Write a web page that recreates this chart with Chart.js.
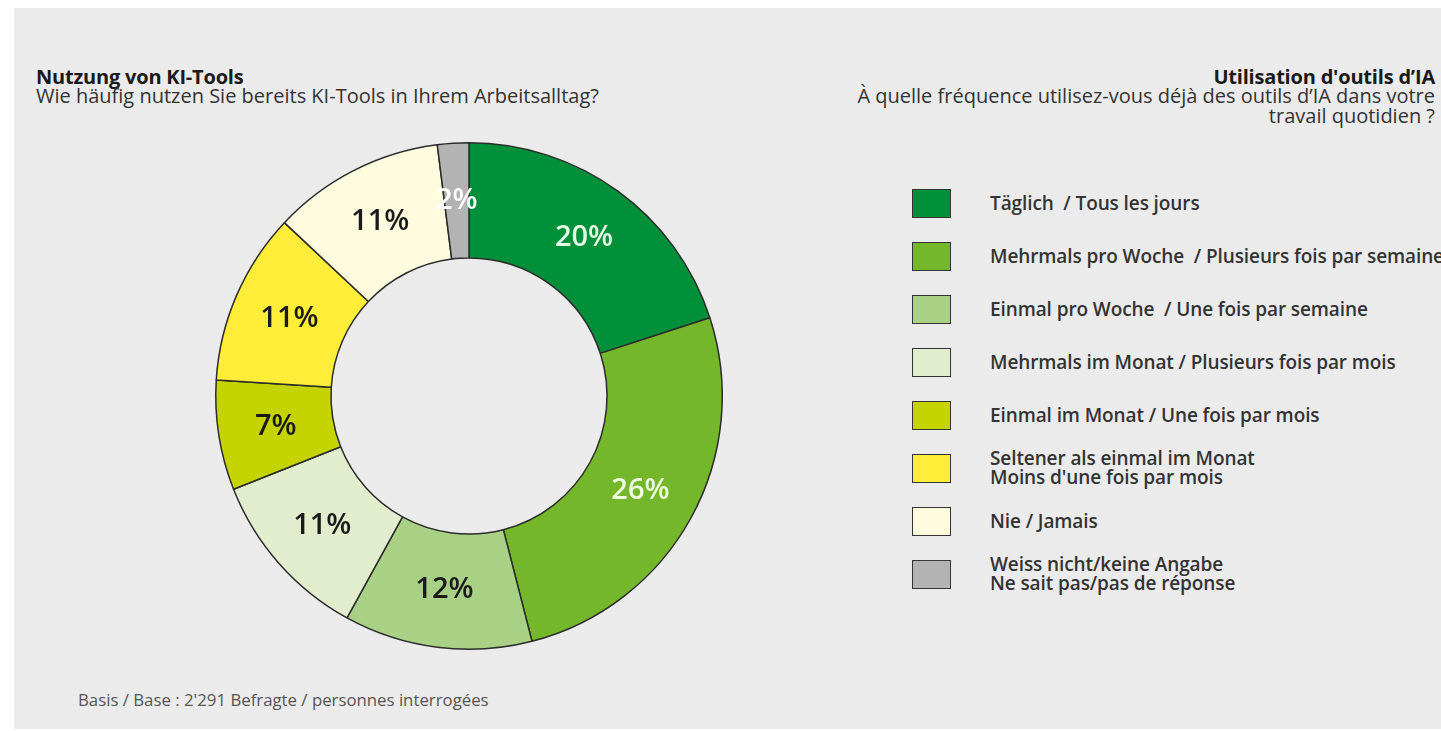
<!DOCTYPE html>
<html>
<head>
<meta charset="utf-8">
<script src="https://cdn.jsdelivr.net/npm/chart.js@4.4.1/dist/chart.umd.min.js"></script>
<style>
  html, body { margin: 0; padding: 0; background: #fff; }
  body { width: 1441px; height: 731px; position: relative; overflow: hidden; font-family: "Open Sans", sans-serif; }
  #panel { position: absolute; left: 14px; top: 8px; right: 0; bottom: 2px; background: #ebebeb; }
  .t { position: absolute; color: #222; white-space: nowrap; line-height: 20px; }
  #titleL { left: 36px; top: 67px; font-size: 20px; font-weight: 700; color: #1a1a1a; letter-spacing: -0.2px; }
  #subL { left: 36px; top: 86px; font-size: 20px; color: #333; }
  #titleR { right: 6px; top: 67px; font-size: 20px; font-weight: 700; color: #1a1a1a; text-align: right; letter-spacing: -0.2px; }
  #subR { right: 6px; top: 86px; font-size: 20px; color: #333; text-align: right; }
  #footer { left: 78px; top: 690px; font-size: 16.8px; color: #555; }
  #chartBox { position: absolute; left: 211px; top: 138px; width: 516px; height: 516px; }
  .lg { position: absolute; left: 912px; display: flex; align-items: center; }
  .lg .box { width: 37px; height: 27px; border: 1.5px solid #333; flex: none; }
  .lg .txt { margin-left: 39px; font-size: 19px; font-weight: 600; color: #333; line-height: 19px; white-space: pre; letter-spacing: -0.1px; }
</style>
</head>
<body>
<div id="panel"></div>
<div class="t" id="titleL">Nutzung von KI-Tools</div>
<div class="t" id="subL">Wie häufig nutzen Sie bereits KI-Tools in Ihrem Arbeitsalltag?</div>
<div class="t" id="titleR">Utilisation d'outils d’IA</div>
<div class="t" id="subR">À quelle fréquence utilisez-vous déjà des outils d’IA dans votre<br>travail quotidien ?</div>
<div class="t" id="footer">Basis  / Base : 2'291 Befragte / personnes interrogées</div>
<div id="legend"></div>
<div id="chartBox"><canvas id="donut"></canvas></div>

<script>
// Kategorien (DE / FR)
const categories = [
    'Täglich  / Tous les jours',
    'Mehrmals pro Woche  / Plusieurs fois par semaine',
    'Einmal pro Woche  / Une fois par semaine',
    'Mehrmals im Monat / Plusieurs fois par mois',
    'Einmal im Monat / Une fois par mois',
    'Seltener als einmal im Monat\nMoins d\'une fois par mois',
    'Nie / Jamais',
    'Weiss nicht/keine Angabe\nNe sait pas/pas de réponse'
];
// Anteile in %
const shares = [20, 26, 12, 11, 7, 11, 11, 2];

const sliceColors = ['#00903a', '#74b72a', '#a8d185', '#e1edcc', '#c5d300', '#ffed3a', '#fffbdf', '#b3b3b3'];
const labelColors = ['#e6fbe4', '#eefbe0', '#1a1a1a', '#1a1a1a', '#1a1a1a', '#1a1a1a', '#1a1a1a', '#ffffff'];

// Legende rechts
const legend = document.getElementById('legend');
categories.forEach(function (cat, i) {
    const row = document.createElement('div');
    row.className = 'lg';
    row.style.top = (188 + i * 53) + 'px';
    row.style.height = '30px';
    row.innerHTML = '<div class="box" style="background:' + sliceColors[i] + '"></div>' +
        '<div class="txt">' + cat + '</div>';
    legend.appendChild(row);
});

// Prozentwerte in die Segmente schreiben
const sliceLabels = {
    id: 'sliceLabels',
    afterDatasetsDraw(chart) {
        const ctx = chart.ctx;
        const meta = chart.getDatasetMeta(0);
        ctx.save();
        ctx.font = '600 29px "Open Sans"';
        ctx.textAlign = 'center';
        ctx.textBaseline = 'middle';
        meta.data.forEach(function (arc, i) {
            const p = arc.getCenterPoint();
            ctx.fillStyle = labelColors[i];
            ctx.fillText(shares[i] + '%', p.x, p.y);
        });
        ctx.restore();
    }
};

const ctx = document.getElementById('donut').getContext('2d');
new Chart(ctx, {
    type: 'doughnut',
    data: {
        labels: categories,
        datasets: [{
            data: shares,
            backgroundColor: sliceColors,
            borderColor: '#2b2b2b',
            borderWidth: 1.5
        }]
    },
    options: {
        responsive: true,
        maintainAspectRatio: false,
        animation: false,
        cutout: '54.5%',
        layout: { padding: 4 },
        plugins: {
            legend: { display: false },
            tooltip: { enabled: false }
        }
    },
    plugins: [sliceLabels]
});
</script>
</body>
</html>
